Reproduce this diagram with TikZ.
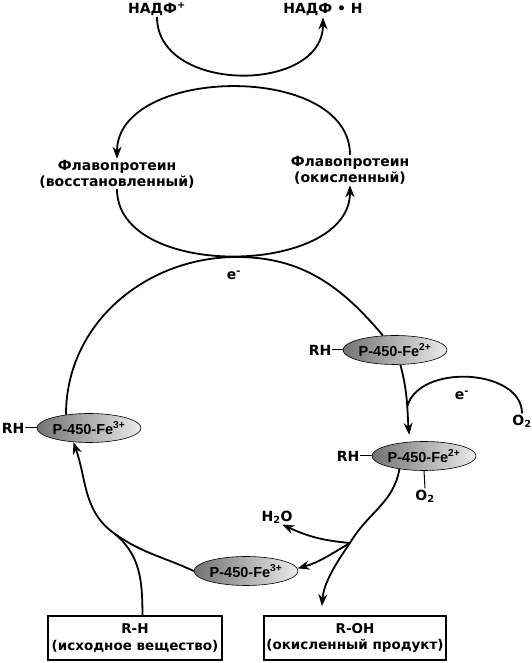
\documentclass[tikz,border=0pt]{standalone}
\usepackage{fontspec}
\setmainfont{DejaVu Sans}
\newfontfamily\enzfont{Liberation Sans}
\usetikzlibrary{shapes.geometric,arrows.meta}
\begin{document}
\begin{tikzpicture}[x=1pt,y=1pt,
  lbl/.style={font=\bfseries\fontsize{14}{16}\selectfont,align=center,inner sep=1pt},
  enz/.style={ellipse,draw,line width=0.6pt,minimum width=104pt,minimum height=29pt,inner sep=0pt,
    left color=black!55,middle color=black!14,right color=black!8,font=\enzfont\bfseries\fontsize{14.5}{16}\selectfont},
  box/.style={draw,line width=1.8pt,minimum height=44pt,align=center,inner sep=2pt,font=\bfseries\fontsize{13.5}{16.5}\selectfont},
  line/.style={line width=1.8pt},
  flow/.style={line width=1.8pt,-{Stealth[length=12pt,width=9pt]}}]
\useasboundingbox (0,0) rectangle (531,663);
\node[lbl] (nadp) at (157,654) {НАДФ\textsuperscript{+}};
\node[lbl] (nadph) at (323,653) {НАДФ • Н};
\node[lbl] (flavL) at (117,489) {Флавопротеин\\(восстановленный)};
\node[lbl] (flavR) at (350,493) {Флавопротеин\\(окисленный)};
\node[lbl] (e1) at (234,388) {e\textsuperscript{-}};
\node[enz] (fe2a) at (395,313) {P-450-Fe\textsuperscript{2+}};
\node[lbl] (rh1) at (320,313) {RH};
\node[enz] (fe2b) at (424,207) {P-450-Fe\textsuperscript{2+}};
\node[lbl] (rh2) at (348,207) {RH};
\node[lbl] (o2b) at (425,167) {O\textsubscript{2}};
\node[lbl] (o2a) at (522,242) {O\textsubscript{2}};
\node[lbl] (e2) at (462,268) {e\textsuperscript{-}};
\node[enz] (fe3L) at (89,235) {P-450-Fe\textsuperscript{3+}};
\node[lbl] (rh3) at (13,235) {RH};
\node[enz] (fe3B) at (246,92) {P-450-Fe\textsuperscript{3+}};
\node[lbl] (h2o) at (277,146) {H\textsubscript{2}O};
\node[box,minimum width=174pt] (rh) at (135,25) {R-H\\(исходное вещество)};
\node[box,minimum width=180pt] (roh) at (355,25) {R-OH\\(окисленный продукт)};
\coordinate (etop) at (237,406);
\coordinate (branch) at (350,120);
\coordinate (merge) at (115,129);
\draw[flow] (nadp.south) to[out=-90,in=-90,looseness=1.18] (nadph.south);
\draw[flow] (flavR.north) to[out=90,in=90,looseness=1.02] (flavL.north);
\draw[flow] (flavL.south) to[out=-90,in=-90,looseness=1] (flavR.south);
\draw[line] (fe3L.150) to[out=90,in=180] (etop) to[out=0,in=130] (fe2a.130);
\draw[flow,shorten >=7pt] (fe2a.-70) to[out=-75,in=95] coordinate[pos=0.55] (join) (fe2b.135);
\draw[line] (join) to[out=75,in=90] (o2a.north);
\draw[line] (fe2b.-152) to[out=-100,in=60] (branch);
\draw[flow] (branch) to[out=175,in=-25] (h2o.-55);
\draw[flow] (branch) to[out=-150,in=15] (fe3B.3);
\draw[flow,shorten >=9pt] (branch) to[out=-125,in=85] (roh.146);
\draw[flow] (fe3B.west) to[out=155,in=-35] (merge) to[out=145,in=-70] (fe3L.222);
\draw[line] (rh.72) to[out=90,in=-40] (merge);
\draw[line width=1pt] (rh1.east) -- (fe2a.west);
\draw[line width=1pt] (rh2.east) -- (fe2b.west);
\draw[line width=1pt] (rh3.east) -- (fe3L.west);
\draw[line width=1pt] (fe2b.south) -- (o2b.north);
\end{tikzpicture}
\end{document}
